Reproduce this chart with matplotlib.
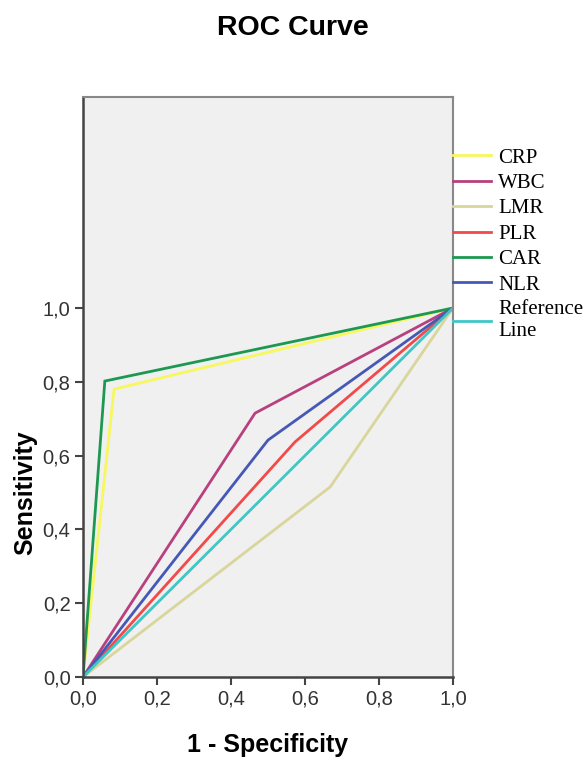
import matplotlib
matplotlib.use("Agg")
import matplotlib.pyplot as plt

# ROC curve points (1 - specificity, sensitivity)
names = ["CRP", "WBC", "LMR", "PLR", "CAR", "NLR", "Reference\nLine"]
fpr = {
    "CRP": [0.0, 0.084, 1.0],
    "WBC": [0.0, 0.465, 1.0],
    "LMR": [0.0, 0.668, 1.0],
    "PLR": [0.0, 0.573, 1.0],
    "CAR": [0.0, 0.059, 1.0],
    "NLR": [0.0, 0.500, 1.0],
    "Reference\nLine": [0.0, 1.0],
}
tpr = {
    "CRP": [0.0, 0.780, 1.0],
    "WBC": [0.0, 0.715, 1.0],
    "LMR": [0.0, 0.515, 1.0],
    "PLR": [0.0, 0.637, 1.0],
    "CAR": [0.0, 0.802, 1.0],
    "NLR": [0.0, 0.642, 1.0],
    "Reference\nLine": [0.0, 1.0],
}
colors = ["#f7f75e", "#b8407e", "#d9d59b", "#f04a4a", "#1d9850", "#4658b5", "#3fc7c7"]

fig = plt.figure(figsize=(5.85, 7.57), dpi=100)
ax = fig.add_axes([83/585, 80/757, 370/585, 580/757])
ax.set_facecolor("#f0f0f0")

for n, c in zip(names, colors):
    ax.plot(fpr[n], tpr[n], color=c, lw=2, label=n, solid_joinstyle="miter")

ax.set_xlim(0, 1)
ax.set_ylim(0, 580/369)
ticks = [0, 0.2, 0.4, 0.6, 0.8, 1.0]
lbls = ["0,0", "0,2", "0,4", "0,6", "0,8", "1,0"]
ax.set_xticks(ticks)
ax.set_xticklabels(lbls)
ax.set_yticks(ticks)
ax.set_yticklabels(lbls)
ax.tick_params(direction="out", length=6, width=1.5, color="#444444",
               labelsize=14.5, labelcolor="#333333", pad=3)
for s in ["left", "bottom"]:
    ax.spines[s].set_color("#444444")
    ax.spines[s].set_linewidth(1.8)
for s in ["top", "right"]:
    ax.spines[s].set_color("#888888")
    ax.spines[s].set_linewidth(1.5)

lf = {"family": "Liberation Sans", "weight": "bold", "size": 18}
ax.set_xlabel("1 - Specificity", fontdict=lf)
ax.xaxis.set_label_coords(0.5, -56/580)
ax.set_ylabel("Sensitivity", fontdict=lf)
ax.yaxis.set_label_coords(-46/370, 0.5/(580/369))
for t in ax.get_xticklabels() + ax.get_yticklabels():
    t.set_family("Liberation Sans")

fig.text(0.5, 1 - 28/757, "ROC Curve", ha="center", va="center",
         family="Liberation Sans", weight="bold", size=20.5)

leg = ax.legend(loc="upper left", bbox_to_anchor=(453/585, 1 - 148/757),
                bbox_transform=fig.transFigure, frameon=False,
                prop={"family": "Liberation Serif", "size": 15},
                handlelength=1.8, handletextpad=0.38, labelspacing=0.28,
                borderpad=0, borderaxespad=0)
for line in leg.get_lines():
    line.set_linewidth(2)

fig.savefig("out.png", dpi=100)
